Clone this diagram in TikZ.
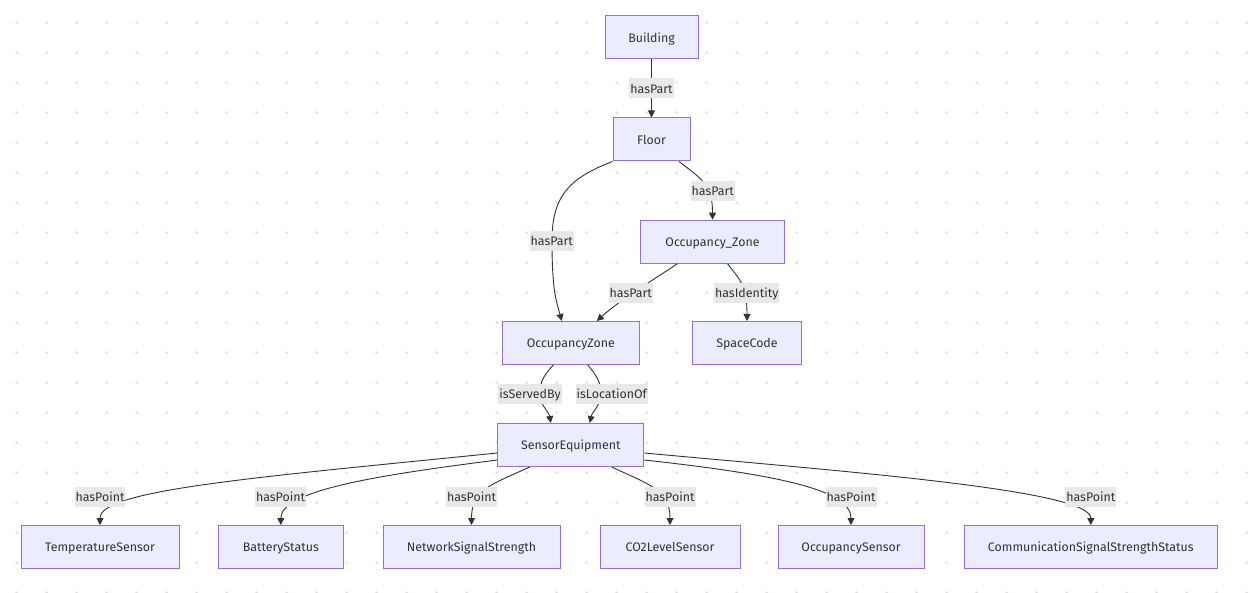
\documentclass[tikz,border=0pt]{standalone}
\usepackage{fontspec}
\setmainfont{Fira Sans}
\usetikzlibrary{arrows.meta}
\definecolor{nodefill}{HTML}{ECECFF}
\definecolor{nodeline}{HTML}{9370DB}
\definecolor{ink}{HTML}{333333}
\definecolor{lblbg}{HTML}{E8E8E8}
\definecolor{dotc}{HTML}{E0E0E0}
\begin{document}
\begin{tikzpicture}[x=1pt,y=-1pt,
  box/.style={draw=nodeline, fill=nodefill, line width=1pt, text=ink, minimum height=43pt, inner sep=0pt, text height=9.2pt, text depth=0pt, font=\fontsize{12.4}{15}\selectfont},
  lbl/.style={fill=lblbg, text=ink, inner xsep=1pt, inner ysep=0pt, minimum height=20pt, text height=9.2pt, text depth=0pt, font=\fontsize{12.4}{15}\selectfont},
  edge/.style={draw=ink, line width=0.9pt, -{Triangle[length=7pt,width=7pt]}}]
\useasboundingbox (0,0) rectangle (1250,593);
\fill[white] (0,0) rectangle (1250,593);
\foreach \i in {0,...,41}{\foreach \j in {0,...,19}{\fill[dotc] (16.7+30*\i,22.7+30*\j) circle (1.5pt);}}
% nodes
\node[box, minimum width=93pt] (bld) at (651.5,37.5) {Building};
\node[box, minimum width=77pt] (flr) at (651.5,139.5) {Floor};
\node[box, minimum width=144pt] (oz) at (712.5,241.7) {Occupancy\_Zone};
\node[box, minimum width=137pt] (ozb) at (570.8,343) {OccupancyZone};
\node[box, minimum width=109pt] (sc) at (747,343) {SpaceCode};
\node[box, minimum width=146pt] (se) at (570.8,445) {SensorEquipment};
\node[box, minimum width=158pt] (ts) at (100,547) {TemperatureSensor};
\node[box, minimum width=125pt] (bs) at (280.8,547) {BatteryStatus};
\node[box, minimum width=177pt] (ns) at (471.5,547) {NetworkSignalStrength};
\node[box, minimum width=140pt] (co) at (670,547) {CO2LevelSensor};
\node[box, minimum width=146pt] (os) at (851,547) {OccupancySensor};
\node[box, minimum width=253pt] (cs) at (1090.8,547) {CommunicationSignalStrengthStatus};
% edges
\draw[edge] (bld.south) -- (flr.north);
\draw[edge] (flr.south west) .. controls (570,178) and (552,195) .. (552,241) .. controls (552,290) and (556,300) .. ([xshift=-9pt]ozb.north);
\draw[edge] ([xshift=27.5pt]flr.south) .. controls (703,180) and (712.5,185) .. (oz.north);
\draw[edge] ([xshift=-35pt]oz.south) .. controls (650,282) and (620,300) .. ([xshift=26pt]ozb.north);
\draw[edge] ([xshift=15pt]oz.south) .. controls (740,280) and (747,285) .. (sc.north);
\draw[edge] ([xshift=-17.5pt]ozb.south) .. controls (541,378) and (540,385) .. (540,394) .. controls (540,405) and (549,412) .. ([xshift=-20pt]se.north);
\draw[edge] ([xshift=17pt]ozb.south) .. controls (599,378) and (601,385) .. (601,394) .. controls (601,405) and (592,412) .. ([xshift=19pt]se.north);
\draw[edge] ([yshift=-8pt]se.west) .. controls (250,478) and (100,490) .. (ts.north);
\draw[edge] ([yshift=-15pt]se.west) .. controls (380,475) and (280.8,490) .. (bs.north);
\draw[edge] ([xshift=-41pt]se.south) .. controls (490,485) and (471.5,490) .. (ns.north);
\draw[edge] ([xshift=41pt]se.south) .. controls (650,485) and (670,490) .. (co.north);
\draw[edge] ([yshift=-15pt]se.east) .. controls (780,475) and (851,490) .. (os.north);
\draw[edge] ([yshift=-8pt]se.east) .. controls (850,472) and (1090.8,490) .. (cs.north);
% labels
\node[lbl] (l1) at (651.5,88.5) {hasPart};
\node[lbl] (l2) at (551.7,240.7) {hasPart};
\node[lbl] (l3) at (712.7,190.7) {hasPart};
\node[lbl] (l4) at (630.7,292.7) {hasPart};
\node[lbl] (l5) at (746.7,292.7) {hasIdentity};
\node[lbl] (l6) at (530,394.3) {isServedBy};
\node[lbl] (l7) at (611.7,394.3) {isLocationOf};
\node[lbl] (l8) at (100,496.5) {hasPoint};
\node[lbl] (l9) at (280.5,496.5) {hasPoint};
\node[lbl] (l10) at (471.5,496.5) {hasPoint};
\node[lbl] (l11) at (670,496.5) {hasPoint};
\node[lbl] (l12) at (851,496.5) {hasPoint};
\node[lbl] (l13) at (1090.8,496.5) {hasPoint};
\end{tikzpicture}
\end{document}
